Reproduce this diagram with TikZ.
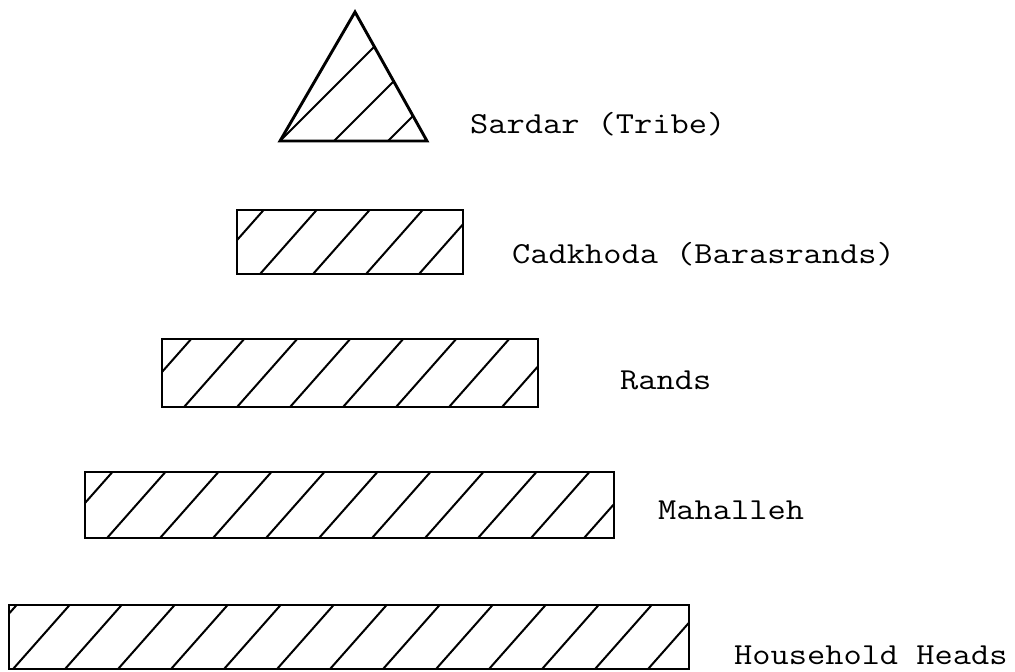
\documentclass[tikz,border=0pt]{standalone}
\usepackage{fontspec}
\begin{document}
\begin{tikzpicture}[x=1pt,y=-1pt,
  outline/.style={line width=2.9pt,line join=miter},
  hatchline/.style={line width=2pt},
  lbl/.style={anchor=base west,inner sep=0pt,font=\ttfamily\fontsize{30.5}{30.5}\selectfont}]
\useasboundingbox (0,0) rectangle (1015,672);
% triangle (Sardar)
\begin{scope}
  \clip (355,12) -- (427,141) -- (280,141) -- cycle;
  \foreach \x in {280,334,388} \draw[hatchline] (\x,141) ++(-20,20) -- ++(200,-200);
\end{scope}
\draw[outline] (355,12) -- (427,141) -- (280,141) -- cycle;
% rectangles
\newcommand{\hatchrect}[5]{%
  \begin{scope}
    \clip (#1,#2) rectangle (#3,#4);
    \foreach \x in {#5} \draw[hatchline] (\x,#4) ++(-30,34) -- ++(160,-181);
  \end{scope}
  \draw[outline] (#1,#2) rectangle (#3,#4);}
\hatchrect{237}{210}{463}{274}{207,260,313,366,419}
\hatchrect{162}{339}{538}{407}{131,184,237,290,343,396,449,502}
\hatchrect{85}{472}{614}{538}{54,107,160,213,266,319,372,425,478,531,584}
\hatchrect{9}{605}{689}{669}{-40,13,65,118,171,224,277,330,383,436,489,542,595,648}
% labels
\node[lbl] (sardar) at (470,133) {\scalebox{1.16}[1]{Sardar (Tribe)}};
\node[lbl] (cadkhoda) at (512,263) {\scalebox{1.16}[1]{Cadkhoda (Barasrands)}};
\node[lbl] (rands) at (620,389) {\scalebox{1.16}[1]{Rands}};
\node[lbl] (mahalleh) at (658,519) {\scalebox{1.16}[1]{Mahalleh}};
\node[lbl] (household) at (734,664) {\scalebox{1.16}[1]{Household Heads}};
\end{tikzpicture}
\end{document}
